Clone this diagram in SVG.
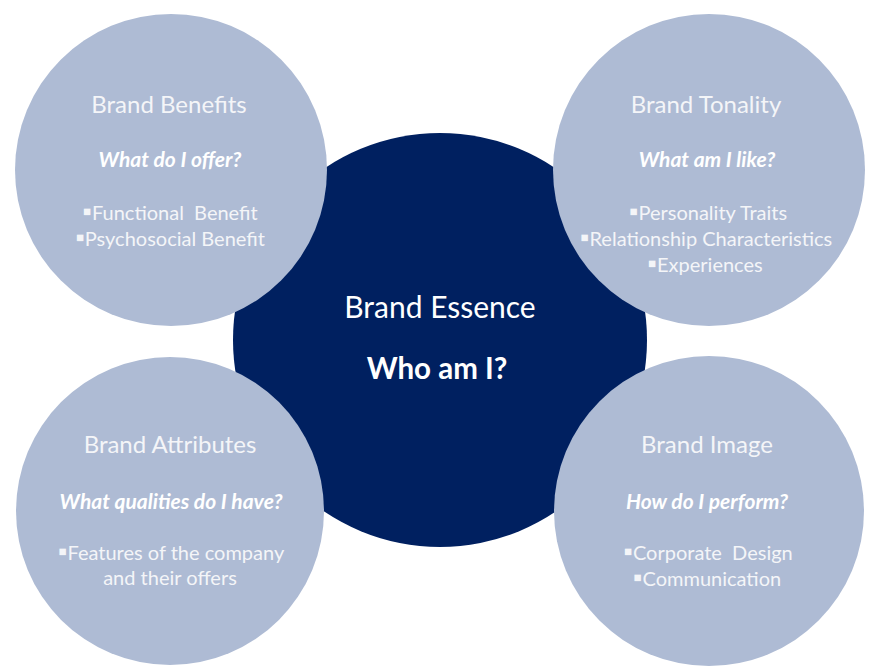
<svg xmlns="http://www.w3.org/2000/svg" width="876" height="672" viewBox="0 0 876 672">
<style>
  .bg { fill: #ffffff; }
  .core { fill: #002060; }
  .petal { fill: #AEBBD4; }
  text { font-family: Lato, "Open Sans", "Liberation Sans", sans-serif; text-anchor: middle; white-space: pre; }
  .title { font-size: 24px; fill: #F4F5F8; }
  .q { font-size: 21px; font-weight: bold; font-style: italic; fill: #FFFFFF; }
  .item { font-size: 20px; fill: #F4F5F8; }
  .b { font-size: 24px; }
  .ctitle { font-size: 30px; fill: #FFFFFF; }
  .cq { font-size: 29.5px; font-weight: bold; fill: #FFFFFF; }
</style>
<rect class="bg" x="0" y="0" width="876" height="672"/>
<g id="connectors"></g>
<g id="brand-essence">
  <circle class="core" cx="440" cy="340" r="207"/>
  <text class="ctitle" x="440" y="318">Brand Essence</text>
  <text class="cq" x="437" y="379">Who am I?</text>
</g>
<g id="brand-benefits">
  <circle class="petal" cx="171" cy="170" r="156"/>
  <text class="title" x="169" y="113">Brand Benefits</text>
  <text class="q" x="170" y="167">What do I offer?</text>
  <text class="item" x="170" y="220"><tspan class="b">▪</tspan>Functional  Benefit</text>
  <text class="item" x="170" y="246"><tspan class="b">▪</tspan>Psychosocial Benefit</text>
</g>
<g id="brand-tonality">
  <circle class="petal" cx="709" cy="170" r="156"/>
  <text class="title" x="706" y="113">Brand Tonality</text>
  <text class="q" x="707" y="167">What am I like?</text>
  <text class="item" x="708" y="220"><tspan class="b">▪</tspan>Personality Traits</text>
  <text class="item" x="706" y="246"><tspan class="b">▪</tspan>Relationship Characteristics</text>
  <text class="item" x="705" y="272"><tspan class="b">▪</tspan>Experiences</text>
</g>
<g id="brand-attributes">
  <circle class="petal" cx="170" cy="511" r="154"/>
  <text class="title" x="170" y="453">Brand Attributes</text>
  <text class="q" x="171" y="509">What qualities do I have?</text>
  <text class="item" x="171" y="560"><tspan class="b">▪</tspan>Features of the company</text>
  <text class="item" x="170" y="585">and their offers</text>
</g>
<g id="brand-image">
  <circle class="petal" cx="709" cy="511" r="155"/>
  <text class="title" x="707" y="453">Brand Image</text>
  <text class="q" x="707" y="509">How do I perform?</text>
  <text class="item" x="708" y="560"><tspan class="b">▪</tspan>Corporate  Design</text>
  <text class="item" x="707" y="586"><tspan class="b">▪</tspan>Communication</text>
</g>
</svg>
